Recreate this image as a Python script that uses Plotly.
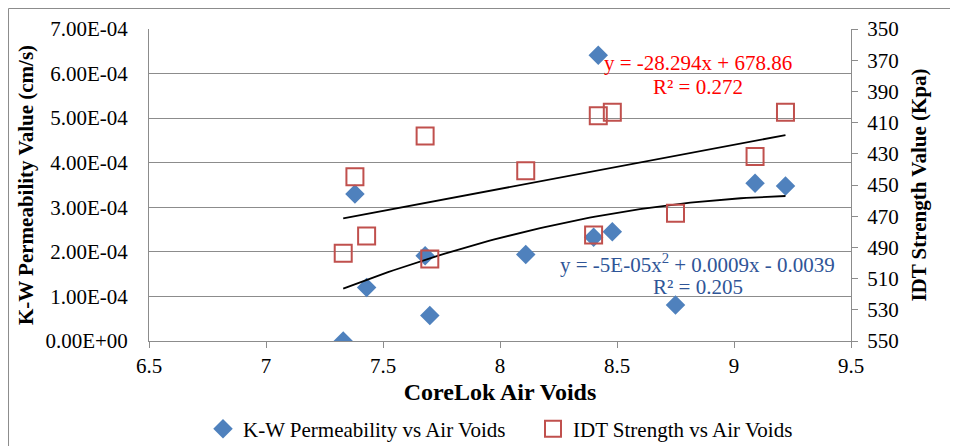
import numpy as np
import plotly.graph_objects as go

# ---- data ----
air_voids = [7.33, 7.38, 7.43, 7.68, 7.70, 8.11, 8.42, 8.40, 8.48, 8.75, 9.09, 9.22]
kw_perm = [0.0, 3.30e-4, 1.20e-4, 1.91e-4, 0.57e-4, 1.94e-4, 6.41e-4, 2.33e-4, 2.45e-4, 0.81e-4, 3.54e-4, 3.48e-4]
idt_strength = [493.8, 444.7, 482.7, 418.6, 497.4, 440.8, 405.6, 482.0, 403.4, 468.1, 431.8, 403.4]

left_tickvals = [0, 1e-4, 2e-4, 3e-4, 4e-4, 5e-4, 6e-4, 7e-4]
left_ticktext = ["0.00E+00", "1.00E-04", "2.00E-04", "3.00E-04", "4.00E-04", "5.00E-04", "6.00E-04", "7.00E-04"]
right_tickvals = [350, 370, 390, 410, 430, 450, 470, 490, 510, 530, 550]

lin_coef = [-28.294, 678.86]  # IDT linear trendline (from the chart's equation)
eq_idt = ["y = -28.294x + 678.86", "R² = 0.272"]
eq_kw = ["y = -5E-05x<sup>2</sup> + 0.0009x - 0.0039", "R² = 0.205"]

FONT = "Liberation Serif, Times New Roman, serif"
GRID = "#8c8c8c"

# trendlines (fitted from the data)
xs = np.linspace(min(air_voids), max(air_voids), 80)
poly = np.polyfit(air_voids, kw_perm, 2)
kw_fit = np.polyval(poly, xs)
idt_fit = np.polyval(lin_coef, xs)

fig = go.Figure()
fig.add_trace(go.Scatter(
    x=air_voids, y=kw_perm, mode="markers", name="K-W Permeability vs Air Voids",
    marker=dict(symbol="diamond", size=15, color="#4F81BD"), yaxis="y", legendwidth=285))
fig.add_trace(go.Scatter(
    x=xs, y=kw_fit, mode="lines", line=dict(color="black", width=1.8),
    showlegend=False, hoverinfo="skip", yaxis="y"))
fig.add_trace(go.Scatter(
    x=air_voids, y=idt_strength, mode="markers", name="IDT Strength vs Air Voids",
    marker=dict(symbol="square-open", size=17, color="#C0504D", line=dict(width=2, color="#C0504D")),
    yaxis="y2", legendwidth=235))
fig.add_trace(go.Scatter(
    x=xs, y=idt_fit, mode="lines", line=dict(color="black", width=1.8),
    showlegend=False, hoverinfo="skip", yaxis="y2"))

ann = []
for txt, yy in zip(eq_idt, [0.891, 0.814]):
    ann.append(dict(x=8.846, y=yy, xref="x", yref="paper", text=txt, showarrow=False,
                    font=dict(family=FONT, size=21, color="#FF0000"), xanchor="center", yanchor="middle"))
for txt, yy in zip(eq_kw, [0.25, 0.173]):
    ann.append(dict(x=8.846, y=yy, xref="x", yref="paper", text=txt, showarrow=False,
                    font=dict(family=FONT, size=21, color="#2F5597"), xanchor="center", yanchor="middle"))

tickfont = dict(family=FONT, size=21, color="black")

fig.update_layout(
    width=958, height=446,
    margin=dict(l=141, r=115, t=21, b=113, autoexpand=False),
    paper_bgcolor="white", plot_bgcolor="white",
    font=dict(family=FONT, size=21, color="black"),
    showlegend=True,
    legend=dict(orientation="h", x=0.0769, xanchor="left", y=-0.282, yanchor="middle",
                font=dict(family=FONT, size=21, color="black"), bgcolor="rgba(0,0,0,0)"),
    xaxis=dict(range=[6.5, 9.5], dtick=0.5, tick0=6.5, showgrid=False, zeroline=False,
               showline=True, linecolor=GRID, linewidth=1, ticks="outside", ticklen=6,
               tickcolor=GRID, ticklabelstandoff=0, tickfont=tickfont,
               title=dict(text="<b>CoreLok Air Voids</b>", standoff=5,
                          font=dict(family=FONT, size=24, color="black"))),
    yaxis=dict(range=[0, 7e-4], tickvals=left_tickvals, ticktext=left_ticktext,
               showgrid=True, gridcolor=GRID, gridwidth=1, zeroline=False,
               showline=True, linecolor=GRID, linewidth=1, ticks="", ticklabelstandoff=16,
               tickfont=tickfont,
               title=dict(text="<b>K-W Permeability Value (cm/s)</b>", standoff=6,
                          font=dict(family=FONT, size=21, color="black"))),
    yaxis2=dict(range=[550, 350], tickvals=right_tickvals, overlaying="y", side="right",
                showgrid=False, zeroline=False, showline=True, linecolor=GRID, linewidth=1,
                ticks="outside", ticklen=6, tickcolor=GRID, ticklabelstandoff=5,
                tickfont=tickfont,
                title=dict(text="<b>IDT Strength Value (Kpa)</b>", standoff=13,
                           font=dict(family=FONT, size=21, color="black"))),
    annotations=ann,
    shapes=[dict(type="rect", xref="paper", yref="paper",
                 x0=-0.2001, x1=1.1496, y0=-0.5, y1=1.0657,
                 line=dict(color=GRID, width=1), fillcolor="rgba(0,0,0,0)", layer="below")],
)

fig.write_html("out.html")
